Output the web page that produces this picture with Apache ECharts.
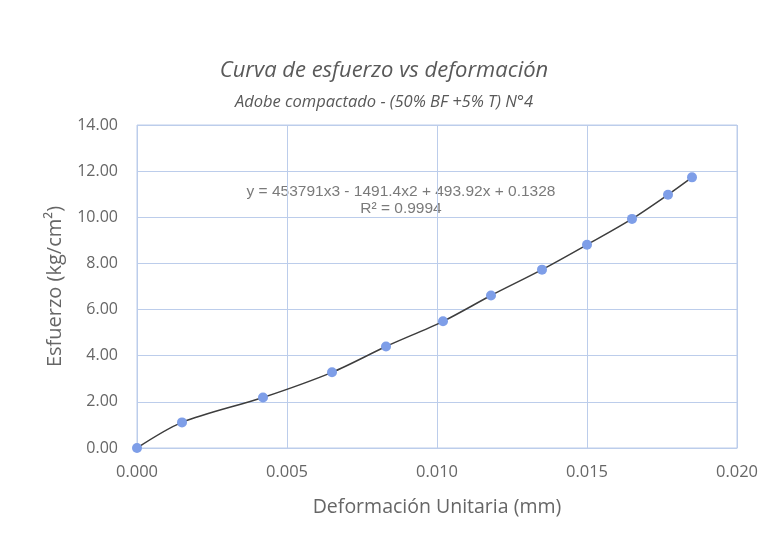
<!DOCTYPE html>
<html>
<head>
<meta charset="utf-8">
<script src="https://cdn.jsdelivr.net/npm/echarts@6/dist/echarts.min.js"></script>
<style>html,body{margin:0;padding:0;background:#fff}#c{width:768px;height:545px}</style>
</head>
<body>
<div id="c"></div>
<script>
const strain = [0.0000, 0.0015, 0.0042, 0.0065, 0.0083, 0.0102, 0.0118, 0.0135, 0.0150, 0.0165, 0.0177, 0.0185];
const stress = [0.00, 1.11, 2.19, 3.28, 4.40, 5.49, 6.61, 7.73, 8.81, 9.93, 10.98, 11.73];
const titleText = 'Curva de esfuerzo vs deformación';
const subtitleText = 'Adobe compactado - (50% BF +5% T) N°4';
const xName = 'Deformación Unitaria (mm)';
const yName = 'Esfuerzo (kg/cm²)';
const eqText = 'y = 453791x3 - 1491.4x2 + 493.92x + 0.1328';
const r2Text = 'R² = 0.9994';

const data = strain.map((x, i) => [x, stress[i]]);
const font = '"Open Sans", "Noto Sans", sans-serif';
const gridColor = '#bccdeb';
const chart = echarts.init(document.getElementById('c'));
chart.setOption({
  backgroundColor: '#ffffff',
  animation: false,
  title: [
    {text: titleText, left: 'center', top: 55,
     textStyle: {fontFamily: font, fontStyle: 'italic', fontWeight: 'normal', fontSize: 22, color: '#595959'}},
    {text: subtitleText, left: 'center', top: 89,
     textStyle: {fontFamily: font, fontStyle: 'italic', fontWeight: 'normal', fontSize: 16.5, color: '#595959'}}
  ],
  grid: {left: 137, right: 31, top: 125, bottom: 97},
  xAxis: {
    type: 'value', min: 0, max: 0.02, interval: 0.005,
    name: xName, nameLocation: 'middle', nameGap: 49,
    nameTextStyle: {fontFamily: font, fontSize: 19.5, color: '#666666'},
    axisLine: {show: true, lineStyle: {color: gridColor}},
    axisTick: {show: false},
    axisLabel: {formatter: v => v.toFixed(3), fontFamily: font, fontSize: 16.5, color: '#666666', margin: 16},
    splitLine: {show: true, lineStyle: {color: gridColor, width: 1}}
  },
  yAxis: {
    type: 'value', min: 0, max: 14, interval: 2,
    name: yName, nameLocation: 'middle', nameGap: 72, nameRotate: 90,
    nameTextStyle: {fontFamily: font, fontSize: 20, color: '#666666'},
    axisLine: {show: false},
    axisTick: {show: false},
    axisLabel: {formatter: v => v.toFixed(2), fontFamily: font, fontSize: 16, color: '#666666', margin: 19},
    splitLine: {show: true, lineStyle: {color: gridColor, width: 1}}
  },
  graphic: [
    {type: 'rect', shape: {x: 137, y: 125, width: 600, height: 323}, style: {fill: 'none', stroke: gridColor, lineWidth: 1}, silent: true},
    {type: 'text', x: 401, y: 192, style: {text: eqText, fontFamily: '"Liberation Sans", Arial, sans-serif', fontSize: 15.5, fill: '#7a7a7a', align: 'center', verticalAlign: 'middle'}},
    {type: 'text', x: 401, y: 209, style: {text: r2Text, fontFamily: '"Liberation Sans", Arial, sans-serif', fontSize: 15.5, fill: '#7a7a7a', align: 'center', verticalAlign: 'middle'}}
  ],
  series: [{
    type: 'line', data: data, smooth: 0.3,
    symbol: 'circle', symbolSize: 10,
    itemStyle: {color: '#7e9ee8'},
    lineStyle: {color: '#3d3d3d', width: 1.5}
  }]
});
</script>
</body>
</html>
